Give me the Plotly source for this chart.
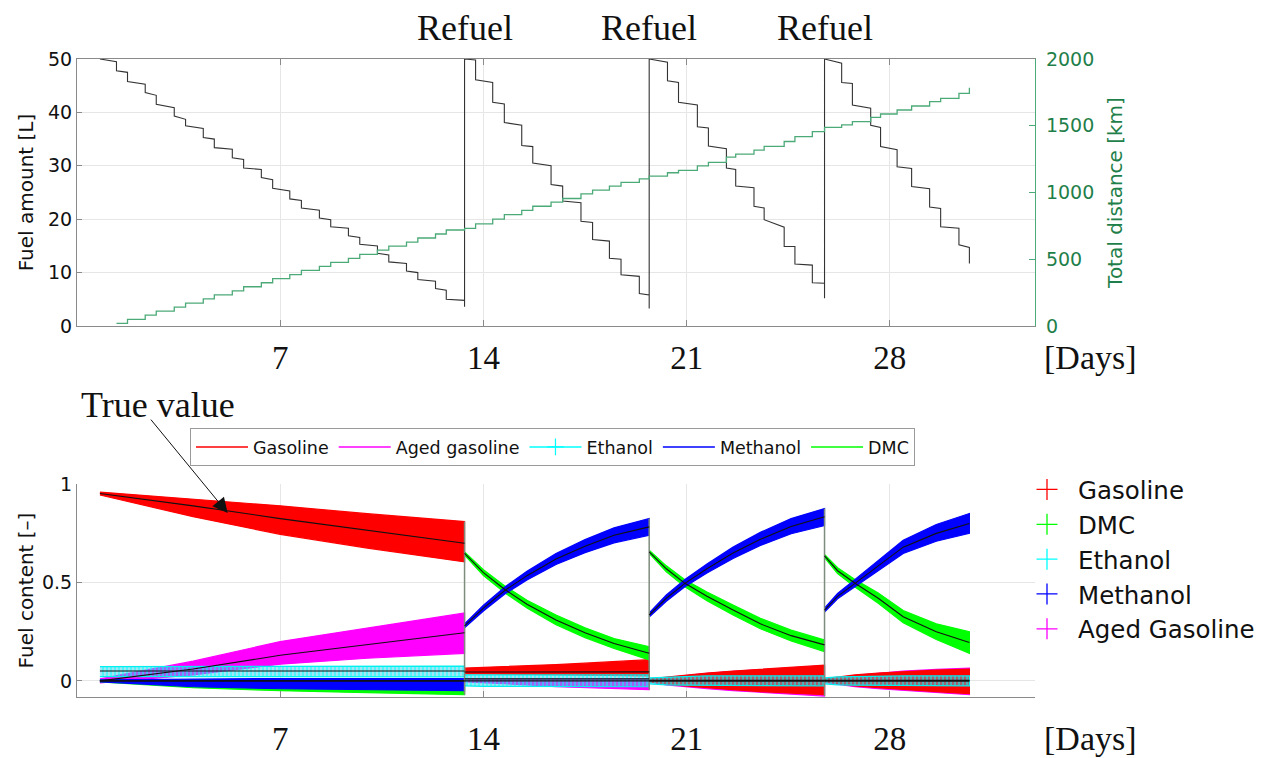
import plotly.graph_objects as go

# ---------------- Fuel tank log (top panel) ----------------
tank_full = 50.0
start_day = 0.79
refuel_days = [13.35, 19.71, 25.75]

trip_days = [
    1.36, 1.74, 2.35, 2.73, 3.35, 3.74, 4.35, 4.73, 5.35, 5.74, 6.35, 6.74,
    7.33, 7.73, 8.35, 8.74, 9.35, 9.74, 10.35, 10.74, 11.35, 11.74, 12.35, 12.72, 13.35,
    13.73, 14.32, 14.72, 15.32, 15.70, 16.33, 16.73, 17.36, 17.76, 18.34, 18.74, 19.37, 19.71,
    20.34, 20.72, 21.37, 21.75, 22.37, 22.69, 23.32, 23.67, 24.36, 24.73, 25.33, 25.75,
    26.34, 26.71, 27.34, 27.68, 28.25, 28.75, 29.37, 29.75, 30.38, 30.74,
]
fuel_before = [
    49.5, 47.5, 45.3, 43.2, 40.9, 38.7, 37.0, 35.0, 33.1, 31.2, 29.3, 27.4,
    25.3, 23.5, 21.7, 19.9, 18.3, 16.6, 15.0, 13.3, 11.7, 10.0, 8.4, 6.7, 4.8,
    49.8, 45.6, 41.6, 37.6, 33.6, 30.0, 26.2, 23.1, 19.4, 15.9, 12.5, 9.3, 5.8,
    49.4, 45.6, 41.4, 37.1, 33.2, 29.3, 25.9, 22.1, 18.5, 14.9, 11.4, 8.0,
    49.2, 45.4, 40.8, 37.2, 33.0, 29.5, 25.7, 22.0, 18.3, 14.7,
]
fuel_after = [
    47.8, 45.8, 43.7, 41.5, 39.3, 37.5, 35.3, 33.4, 31.5, 29.6, 27.8, 25.8,
    23.8, 22.1, 20.2, 18.6, 16.9, 15.3, 13.6, 12.0, 10.3, 8.7, 7.0, 5.0, 3.6,
    46.1, 41.9, 38.1, 33.8, 30.5, 26.5, 23.4, 19.6, 16.2, 12.7, 9.6, 6.1, 3.3,
    45.9, 41.9, 37.3, 33.7, 29.6, 26.2, 22.4, 19.9, 14.9, 11.6, 8.1, 5.2,
    45.6, 41.4, 37.6, 33.6, 29.8, 26.1, 22.3, 18.6, 15.2, 11.7,
]
distance_km = [
    20, 50, 81, 111, 142, 172, 203, 233, 263, 294, 324, 355,
    385, 416, 446, 476, 507, 537, 568, 598, 628, 659, 689, 719, 732,
    765, 800, 835, 866, 897, 928, 955, 990, 1018, 1048, 1076, 1102, 1122,
    1148, 1165, 1200, 1225, 1265, 1288, 1318, 1345, 1382, 1418, 1456, 1488,
    1506, 1531, 1563, 1588, 1618, 1648, 1680, 1705, 1743, 1785,
]

# ---------------- Estimated fuel content (bottom panel) ----------------
# one list per tank period (between refuels)
seg_days = [
    [0.79, 4.0, 7.0, 10.0, 13.35],
    [13.35, 14.0, 14.76, 15.5, 16.5, 17.5, 18.5, 19.71],
    [19.71, 20.3, 20.94, 21.7, 22.6, 23.54, 24.6, 25.75],
    [25.75, 26.2, 26.8, 27.6, 28.46, 29.6, 30.74],
]
gasoline_true = [
    [0.953, 0.89, 0.825, 0.765, 0.70],
    [0.045, 0.045, 0.045, 0.046, 0.046, 0.046, 0.046, 0.046],
    [0.003, 0.003, 0.003, 0.003, 0.003, 0.003, 0.003, 0.003],
    [0.003, 0.003, 0.003, 0.003, 0.003, 0.003, 0.003],
]
gasoline_lo = [
    [0.945, 0.835, 0.745, 0.675, 0.605],
    [0.035, 0.035, 0.034, 0.033, 0.032, 0.030, 0.028, 0.025],
    [-0.005, -0.015, -0.025, -0.035, -0.045, -0.055, -0.063, -0.07],
    [-0.005, -0.015, -0.025, -0.035, -0.045, -0.055, -0.065],
]
gasoline_hi = [
    [0.960, 0.925, 0.89, 0.85, 0.81],
    [0.065, 0.068, 0.072, 0.077, 0.083, 0.090, 0.098, 0.108],
    [0.01, 0.02, 0.03, 0.04, 0.05, 0.06, 0.07, 0.08],
    [0.01, 0.02, 0.03, 0.04, 0.048, 0.055, 0.06],
]
aged_true = [
    [0.0, 0.06, 0.13, 0.185, 0.245],
    [0.0, 0.0, 0.0, 0.0, 0.0, 0.0, 0.0, 0.0],
    [0.0, 0.0, 0.0, 0.0, 0.0, 0.0, 0.0, 0.0],
    [0.0, 0.0, 0.0, 0.0, 0.0, 0.0, 0.0],
]
aged_lo = [
    [-0.01, 0.03, 0.085, 0.115, 0.14],
    [-0.005, -0.01, -0.015, -0.02, -0.03, -0.035, -0.04, -0.045],
    [-0.005, -0.02, -0.03, -0.04, -0.05, -0.06, -0.068, -0.077],
    [-0.008, -0.018, -0.03, -0.04, -0.05, -0.06, -0.07],
]
aged_hi = [
    [0.01, 0.10, 0.20, 0.27, 0.345],
    [0.01, 0.01, 0.01, 0.01, 0.01, 0.01, 0.01, 0.01],
    [0.008, 0.018, 0.028, 0.038, 0.048, 0.058, 0.068, 0.078],
    [0.008, 0.018, 0.028, 0.038, 0.05, 0.058, 0.065],
]
ethanol_true = [
    [0.05, 0.05, 0.05, 0.05, 0.05],
    [0.01, 0.01, 0.01, 0.01, 0.01, 0.01, 0.01, 0.01],
    [0.0, 0.0, 0.0, 0.0, 0.0, 0.0, 0.0, 0.0],
    [0.0, 0.0, 0.0, 0.0, 0.0, 0.0, 0.0],
]
ethanol_lo = [
    [0.022, 0.02, 0.02, 0.02, 0.02],
    [-0.025, -0.028, -0.03, -0.03, -0.03, -0.03, -0.03, -0.03],
    [-0.015, -0.02, -0.022, -0.025, -0.025, -0.025, -0.025, -0.025],
    [-0.015, -0.02, -0.022, -0.025, -0.025, -0.025, -0.025],
]
ethanol_hi = [
    [0.072, 0.073, 0.073, 0.073, 0.075],
    [0.03, 0.03, 0.03, 0.03, 0.03, 0.03, 0.03, 0.03],
    [0.015, 0.02, 0.022, 0.025, 0.025, 0.025, 0.025, 0.025],
    [0.015, 0.02, 0.022, 0.025, 0.025, 0.025, 0.025],
]
methanol_true = [
    [0.0, 0.0, 0.0, 0.0, 0.0],
    [0.28, 0.37, 0.462, 0.535, 0.62, 0.685, 0.74, 0.783],
    [0.335, 0.42, 0.496, 0.57, 0.65, 0.72, 0.785, 0.834],
    [0.36, 0.43, 0.496, 0.585, 0.68, 0.75, 0.80],
]
methanol_lo = [
    [-0.005, -0.03, -0.04, -0.045, -0.05],
    [0.27, 0.355, 0.444, 0.513, 0.592, 0.652, 0.702, 0.74],
    [0.325, 0.405, 0.478, 0.548, 0.622, 0.688, 0.748, 0.79],
    [0.35, 0.417, 0.478, 0.56, 0.648, 0.71, 0.75],
]
methanol_hi = [
    [0.005, 0.01, 0.012, 0.012, 0.012],
    [0.29, 0.385, 0.48, 0.557, 0.648, 0.718, 0.778, 0.826],
    [0.345, 0.437, 0.516, 0.594, 0.68, 0.755, 0.825, 0.876],
    [0.37, 0.445, 0.516, 0.612, 0.715, 0.795, 0.851],
]
dmc_true = [
    [0.0, 0.0, 0.0, 0.0, 0.0],
    [0.648, 0.55, 0.462, 0.39, 0.31, 0.245, 0.19, 0.14],
    [0.656, 0.57, 0.496, 0.43, 0.36, 0.29, 0.23, 0.183],
    [0.635, 0.56, 0.496, 0.42, 0.326, 0.25, 0.195],
]
dmc_lo = [
    [-0.005, -0.035, -0.05, -0.06, -0.07],
    [0.64, 0.535, 0.445, 0.37, 0.285, 0.22, 0.165, 0.107],
    [0.648, 0.555, 0.478, 0.408, 0.335, 0.265, 0.203, 0.149],
    [0.627, 0.545, 0.477, 0.395, 0.295, 0.21, 0.14],
]
dmc_hi = [
    [0.005, 0.008, 0.01, 0.01, 0.01],
    [0.656, 0.565, 0.48, 0.41, 0.335, 0.27, 0.215, 0.174],
    [0.664, 0.585, 0.514, 0.452, 0.385, 0.318, 0.258, 0.208],
    [0.643, 0.575, 0.515, 0.447, 0.358, 0.29, 0.25],
]

day_ticks = [7, 14, 21, 28]

SANS = "DejaVu Sans"
SERIF = "Liberation Serif"
GRID = "#e6e6e6"
AXIS = "#8a8a8a"
DIST_LINE = "#4caa78"
DIST_TEXT = "#1f7f4a"

RED, MAGENTA, CYAN, BLUE, GREEN = "#ff0000", "#ff00ff", "#00ffff", "#0000ff", "#00ff00"

fig = go.Figure()

# ---- top panel: fuel amount staircase ----
fx, fy = [start_day], [tank_full]
for t, b, a in zip(trip_days, fuel_before, fuel_after):
    fx += [t, t]
    fy += [b, a]
    if t in refuel_days:
        fx.append(t)
        fy.append(tank_full)
fig.add_trace(go.Scatter(x=fx, y=fy, mode="lines", line=dict(color="#333333", width=1.1),
                         xaxis="x", yaxis="y", showlegend=False, hoverinfo="skip"))
fig.add_trace(go.Scatter(x=trip_days, y=distance_km, mode="lines", line_shape="hv",
                         line=dict(color=DIST_LINE, width=1.3),
                         xaxis="x", yaxis="y2", showlegend=False, hoverinfo="skip"))


# ---- bottom panel: estimate bands ----
def band_xy(lo, hi):
    xs, ys = [], []
    for t, l, h in zip(seg_days, lo, hi):
        xs += list(t) + list(t[::-1]) + [None]
        ys += list(h) + list(l[::-1]) + [None]
    return xs, ys


def mid_xy(mid):
    xs, ys = [], []
    for t, m in zip(seg_days, mid):
        xs += list(t) + [None]
        ys += list(m) + [None]
    return xs, ys


band_specs = [
    (aged_lo, aged_hi, MAGENTA, None),
    (gasoline_lo, gasoline_hi, RED, None),
    (dmc_lo, dmc_hi, GREEN, None),
    (methanol_lo, methanol_hi, BLUE, None),
    (ethanol_lo, ethanol_hi, CYAN, "|"),
]
for lo, hi, col, pattern in band_specs:
    bx, by = band_xy(lo, hi)
    kw = dict(x=bx, y=by, mode="lines", fill="toself", line=dict(color=col, width=1.2),
              xaxis="x2", yaxis="y3", showlegend=False, hoverinfo="skip")
    if pattern:
        kw["fillcolor"] = "rgba(0,235,255,0.55)"
        kw["fillpattern"] = dict(shape=pattern, fgcolor=CYAN, bgcolor="rgba(60,200,230,0.45)",
                                 size=4, solidity=0.55)
        kw["line"] = dict(color="rgba(0,240,240,1)", width=1.2)
    else:
        kw["fillcolor"] = col
    fig.add_trace(go.Scatter(**kw))

# jumps of the estimates at each refuel
all_lo = [gasoline_lo, aged_lo, ethanol_lo, methanol_lo, dmc_lo]
all_hi = [gasoline_hi, aged_hi, ethanol_hi, methanol_hi, dmc_hi]
jx, jy = [], []
for i, r in enumerate(refuel_days):
    top = max(max(h[i][-1], h[i + 1][0]) for h in all_hi)
    bot = min(min(l[i][-1], l[i + 1][0]) for l in all_lo)
    jx += [r, r, None]
    jy += [top, bot, None]
fig.add_trace(go.Scatter(x=jx, y=jy, mode="lines", line=dict(color="#7d8c7d", width=1.5),
                         xaxis="x2", yaxis="y3", showlegend=False, hoverinfo="skip"))

# true values
for mid in [gasoline_true, aged_true, ethanol_true, methanol_true, dmc_true]:
    mx, my = mid_xy(mid)
    fig.add_trace(go.Scatter(x=mx, y=my, mode="lines", line=dict(color="#111111", width=1.1),
                             xaxis="x2", yaxis="y3", showlegend=False, hoverinfo="skip"))

# legend inside the lower panel (line samples)
for name, col in [("Gasoline", RED), ("Aged gasoline", MAGENTA), ("Ethanol", CYAN),
                  ("Methanol", BLUE), ("DMC", GREEN)]:
    kw = dict(x=[None], y=[None], name=name, legend="legend",
              line=dict(color=col, width=1.5), xaxis="x2", yaxis="y3")
    if name == "Ethanol":
        kw["mode"] = "lines+markers"
        kw["marker"] = dict(symbol="cross-thin", size=12, line=dict(color=col, width=1.2))
    else:
        kw["mode"] = "lines"
    fig.add_trace(go.Scatter(**kw))

# legend at the right (markers)
for name, col in [("Gasoline", RED), ("DMC", GREEN), ("Ethanol", CYAN),
                  ("Methanol", BLUE), ("Aged Gasoline", MAGENTA)]:
    fig.add_trace(go.Scatter(x=[None], y=[None], name=name, legend="legend2", mode="markers",
                             marker=dict(symbol="cross-thin", size=15, color=col,
                                         line=dict(color=col, width=1.3)),
                             xaxis="x2", yaxis="y3"))

W, H = 1273, 758
xdom = [77 / W, 1035 / W]
top_dom = [(H - 326) / H, (H - 59) / H]
bot_dom = [(H - 697) / H, (H - 484) / H]

xaxis_common = dict(
    range=[0, 33], tickvals=day_ticks, ticks="inside", ticklen=6, tickcolor=AXIS,
    showgrid=True, gridcolor=GRID, gridwidth=1, showline=True, linecolor=AXIS, linewidth=1.2,
    zeroline=False, automargin=False, tickfont=dict(family=SERIF, size=33, color="#111111"),
)

fig.update_layout(
    width=W, height=H, margin=dict(l=0, r=0, t=0, b=0, autoexpand=False),
    paper_bgcolor="white", plot_bgcolor="white",
    xaxis=dict(domain=xdom, anchor="y", mirror="ticks", ticklabelstandoff=2, **xaxis_common),
    yaxis=dict(domain=top_dom, anchor="x", range=[0, 50], tickvals=[0, 10, 20, 30, 40, 50],
               ticks="inside", ticklen=5, tickcolor=AXIS, showgrid=True, gridcolor=GRID,
               showline=True, linecolor=AXIS, linewidth=1.2, zeroline=False, automargin=False,
               tickfont=dict(family=SANS, size=19, color="#111111"),
               title=dict(text="Fuel amount [L]", font=dict(family=SANS, size=20, color="#111111"),
                          standoff=8)),
    yaxis2=dict(overlaying="y", anchor="x", side="right", range=[0, 2000],
                tickvals=[0, 500, 1000, 1500, 2000], ticks="inside", ticklen=6,
                tickcolor=DIST_LINE, showgrid=False, showline=True, linecolor=DIST_LINE,
                linewidth=1.2, zeroline=False, automargin=False, ticklabelstandoff=6,
                tickfont=dict(family=SANS, size=19, color=DIST_TEXT),
                title=dict(text="Total distance [km]", font=dict(family=SANS, size=20, color=DIST_TEXT),
                           standoff=14)),
    xaxis2=dict(domain=xdom, anchor="y3", ticklabelstandoff=12, **xaxis_common),
    yaxis3=dict(domain=bot_dom, anchor="x2", range=[-0.082, 1.001], tickvals=[0, 0.5, 1],
                ticktext=["0", "0.5", "1"], ticks="inside", ticklen=5, tickcolor=AXIS,
                showgrid=True, gridcolor=GRID, showline=True, linecolor=AXIS, linewidth=1.2,
                zeroline=False, automargin=False, tickfont=dict(family=SANS, size=19, color="#111111"),
                title=dict(text="Fuel content [\u2013]", font=dict(family=SANS, size=20, color="#111111"),
                           standoff=2)),
    legend=dict(orientation="h", x=190 / W, y=(H - 428) / H, xanchor="left", yanchor="top",
                bgcolor="white", bordercolor="#9a9a9a", borderwidth=1,
                font=dict(family=SANS, size=17.5, color="#111111"), itemwidth=52),
    legend2=dict(orientation="v", x=1016 / W, y=(H - 467) / H, xanchor="left", yanchor="top",
                 bgcolor="rgba(0,0,0,0)", borderwidth=0, tracegroupgap=0,
                 font=dict(family=SANS, size=24.5, color="#111111"), itemwidth=52),
)

annotations = []
for r in refuel_days:
    annotations.append(dict(x=r, xref="x", y=(H - 28) / H, yref="paper", text="Refuel",
                            showarrow=False, font=dict(family=SERIF, size=36, color="#111111"),
                            xanchor="center", yanchor="middle"))
for ypix in (357, 738):
    annotations.append(dict(x=1090 / W, xref="paper", y=(H - ypix) / H, yref="paper", text="[Days]",
                            showarrow=False, font=dict(family=SERIF, size=34, color="#111111"),
                            xanchor="center", yanchor="middle"))
# "True value" label and its arrow onto the gasoline true line
annotations.append(dict(x=158 / W, xref="paper", y=(H - 405) / H, yref="paper", text="True value",
                        showarrow=False, font=dict(family=SERIF, size=36, color="#111111"),
                        xanchor="center", yanchor="middle"))
annotations.append(dict(x=5.19, xref="x2", y=0.853, yref="y3", text="",
                        showarrow=True, ax=-78, ay=-95, arrowhead=2, arrowsize=3,
                        arrowwidth=1.0, arrowcolor="#111111"))
fig.update_layout(annotations=annotations)

fig.write_html("out.html")
